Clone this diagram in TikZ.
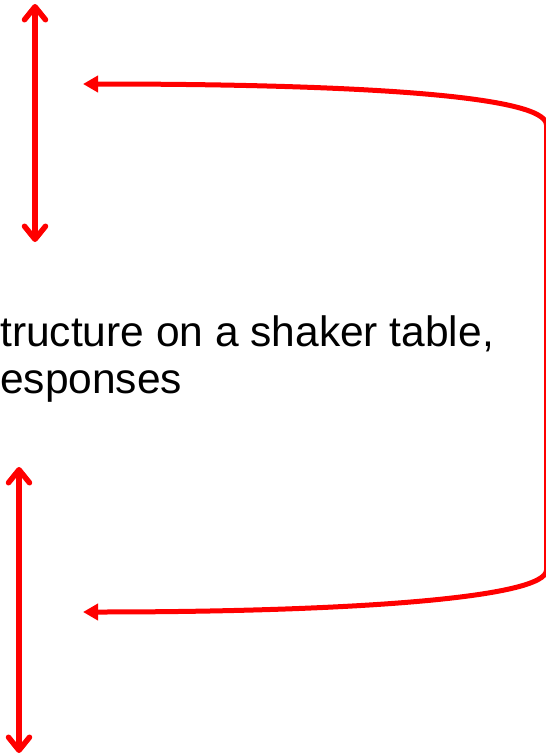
\documentclass[tikz,border=0pt]{standalone}
\usepackage{fontspec}
\setmainfont{Liberation Sans}
\usetikzlibrary{arrows.meta}
\definecolor{arrowred}{RGB}{255,0,0}
\begin{document}
\begin{tikzpicture}[x=1pt,y=-1pt,
  vbar/.style={draw=arrowred,line width=5.5pt,line cap=round,
    {Straight Barb[length=13pt,width=21pt,line cap=round,line join=round]}-{Straight Barb[length=13pt,width=21pt,line cap=round,line join=round]}},
  loopline/.style={draw=arrowred,line width=5pt,
    {Triangle[length=15pt,width=16pt]}-{Triangle[length=15pt,width=16pt]}},
  captiontext/.style={anchor=base west,inner sep=0pt,font=\fontsize{42.5}{47}\selectfont}]
\useasboundingbox (0,0) rectangle (546,755);
\coordinate (a1top) at (35,4);
\coordinate (a1bot) at (35,242);
\coordinate (a2top) at (19,467);
\coordinate (a2bot) at (19,753);
\coordinate (topend) at (83,84);
\coordinate (tr) at (546.5,125);
\coordinate (br) at (546.5,570);
\coordinate (botend) at (83,612);
\draw[vbar] (a1top) -- (a1bot);
\draw[vbar] (a2top) -- (a2bot);
\draw[loopline] (topend) .. controls (350,84) and (546.5,95) .. (tr) -- (br) .. controls (546.5,598) and (350,612) .. (botend);
\node[captiontext] (line1) at (0,346) {tructure on a shaker table,};
\node[captiontext] (line2) at (0,393) {esponses};
\end{tikzpicture}
\end{document}
